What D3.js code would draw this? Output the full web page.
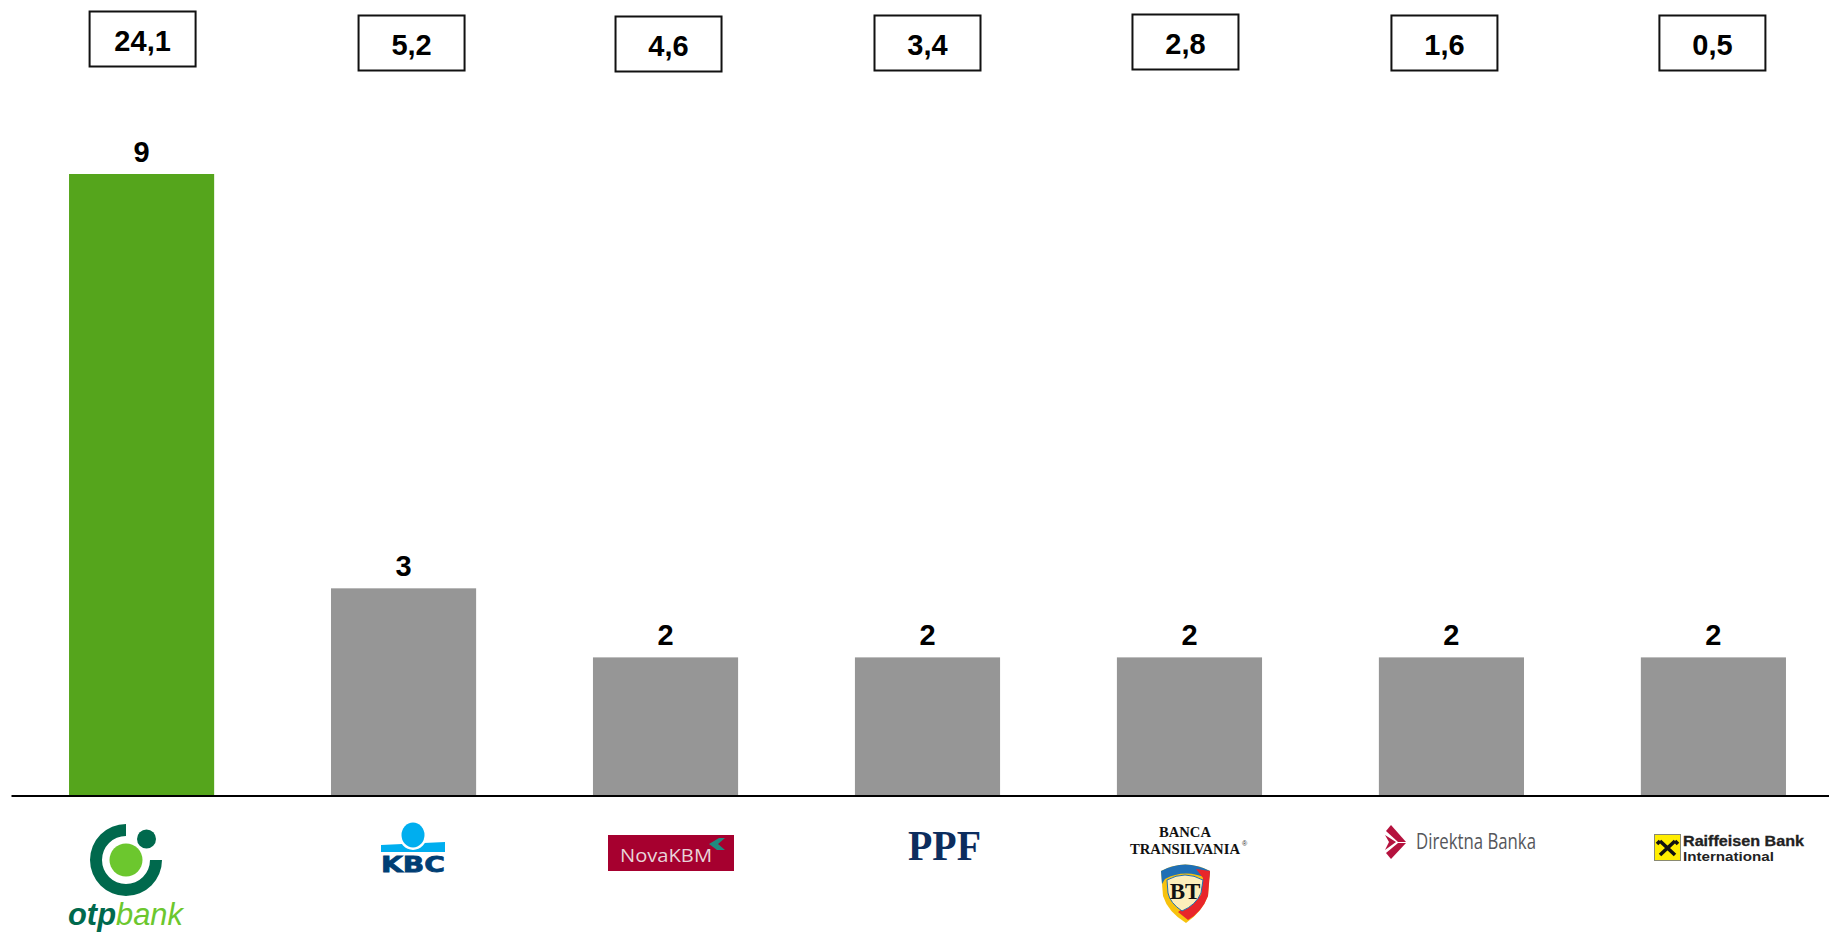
<!DOCTYPE html>
<html>
<head>
<meta charset="utf-8">
<script src="https://cdn.jsdelivr.net/npm/d3@7"></script>
<style>
  html, body { margin: 0; padding: 0; background: #fff; overflow: hidden; }
  svg { font-family: "Liberation Sans", Arial, sans-serif; }
</style>
</head>
<body>
<div id="chart"></div>
<script>
const banks = ["OTP", "KBC", "NovaKBM", "PPF", "Banca Transilvania", "Direktna Banka", "Raiffeisen"];
const barValues = [9, 3, 2, 2, 2, 2, 2];
const boxLabels = ["24,1", "5,2", "4,6", "3,4", "2,8", "1,6", "0,5"];
const highlightBank = "OTP";

// hand placed boxes above the bars, offsets from the bar centre
const boxNudgeX = [1, 8, 3, 0, -4, -7, -1];
const boxTop = [11, 15, 16, 15, 14, 15, 15];

const width = 1829, height = 933;
const baseline = 795.5;

const svg = d3.select("#chart").append("svg")
  .attr("width", width)
  .attr("height", height)
  .style("display", "block");

const x = d3.scaleBand()
  .domain(banks)
  .range([11, 1844])
  .paddingInner(0.446)
  .paddingOuter(0.2215);

const y = d3.scaleLinear()
  .domain([0, 9])
  .range([baseline, 174]);

// Bars
svg.selectAll("rect.bar")
  .data(banks)
  .enter().append("rect")
  .attr("class", "bar")
  .attr("x", d => x(d))
  .attr("y", (d, i) => y(barValues[i]))
  .attr("width", x.bandwidth())
  .attr("height", (d, i) => baseline - y(barValues[i]))
  .attr("fill", d => d === highlightBank ? "#55a51c" : "#969696");

svg.selectAll("text.barLabel")
  .data(banks)
  .enter().append("text")
  .attr("class", "barLabel")
  .attr("x", d => x(d) + x.bandwidth() / 2)
  .attr("y", (d, i) => y(barValues[i]) - 12)
  .attr("text-anchor", "middle")
  .attr("font-size", 29)
  .attr("font-weight", "bold")
  .text((d, i) => barValues[i]);

// Axis line
const axis = d3.axisBottom(x).tickSize(0).tickFormat("");
const axisG = svg.append("g")
  .attr("transform", `translate(0,${baseline})`)
  .call(axis);
axisG.select(".domain").attr("stroke", "#000").attr("stroke-width", 2);

// Boxes on top
const boxW = 106, boxH = 55;
const boxes = svg.selectAll("g.box")
  .data(banks)
  .enter().append("g")
  .attr("class", "box")
  .attr("transform", (d, i) => `translate(${x(d) + x.bandwidth() / 2 + boxNudgeX[i]},${boxTop[i] + 0.5})`);

boxes.append("rect")
  .attr("x", -boxW / 2)
  .attr("width", boxW)
  .attr("height", boxH)
  .attr("fill", "#fff")
  .attr("stroke", "#111")
  .attr("stroke-width", 2);

boxes.append("text")
  .attr("y", 39)
  .attr("text-anchor", "middle")
  .attr("font-size", 29)
  .attr("font-weight", "bold")
  .text((d, i) => boxLabels[i]);

// Logos, drawn by hand under the axis
const logos = svg.append("g").attr("class", "logos");

function drawOtp(g) {
  const ring = d3.arc().innerRadius(24).outerRadius(36)
    .startAngle(Math.PI / 2).endAngle(2 * Math.PI);
  g.append("path").attr("d", ring()).attr("transform", "translate(126,860)").attr("fill", "#00694d");
  g.append("circle").attr("cx", 126).attr("cy", 860).attr("r", 16.5).attr("fill", "#6cc72e");
  g.append("circle").attr("cx", 146.5).attr("cy", 839).attr("r", 9.5).attr("fill", "#00694d");
  const t = g.append("text").attr("x", 68).attr("y", 925)
    .attr("font-size", 31).attr("font-style", "italic")
    .attr("textLength", 115).attr("lengthAdjust", "spacingAndGlyphs");
  t.append("tspan").attr("font-weight", "bold").attr("fill", "#00694d").text("otp");
  t.append("tspan").attr("fill", "#6cc72e").text("bank");
}

function drawKbc(g) {
  g.append("path").attr("d", "M381,845 L445,842 L445,852 L381,852 Z").attr("fill", "#00aeef");
  g.append("ellipse").attr("cx", 413).attr("cy", 835).attr("rx", 14).attr("ry", 15).attr("fill", "#fff");
  g.append("ellipse").attr("cx", 413).attr("cy", 835).attr("rx", 11.5).attr("ry", 12.5).attr("fill", "#00aeef");
  g.append("text").attr("x", 381).attr("y", 872)
    .attr("font-size", 22).attr("font-weight", "bold")
    .attr("font-family", "DejaVu Sans")
    .attr("textLength", 64).attr("lengthAdjust", "spacingAndGlyphs")
    .attr("stroke", "#003e74").attr("stroke-width", 0.8)
    .attr("fill", "#003e74").text("KBC");
}

function drawNova(g) {
  g.append("rect").attr("x", 608).attr("y", 835).attr("width", 126).attr("height", 36).attr("fill", "#a6002f");
  g.append("text").attr("x", 620).attr("y", 862)
    .attr("font-size", 18).attr("font-family", "Open Sans")
    .attr("textLength", 92).attr("lengthAdjust", "spacingAndGlyphs")
    .attr("fill", "#e8d3d9").text("NovaKBM");
  g.append("path").attr("d", "M719,838 L725,838 L718,844 L725,850 L717,850 L709,844 Z").attr("fill", "#1f8a80");
}

function drawPpf(g) {
  g.append("text").attr("x", 908).attr("y", 860)
    .attr("font-size", 42).attr("font-weight", "bold")
    .attr("font-family", "Liberation Serif")
    .attr("textLength", 73).attr("lengthAdjust", "spacingAndGlyphs")
    .attr("fill", "#0c2d5e").text("PPF");
}

function drawBt(g) {
  const serif = t => t.attr("font-size", 15).attr("font-weight", "bold")
    .attr("font-family", "Liberation Serif").attr("fill", "#111")
    .attr("lengthAdjust", "spacingAndGlyphs");
  g.append("text").attr("x", 1159).attr("y", 836.5)
    .attr("textLength", 52).call(serif).text("BANCA");
  g.append("text").attr("x", 1130).attr("y", 853.5)
    .attr("textLength", 110).call(serif).text("TRANSILVANIA");
  g.append("text").attr("x", 1242).attr("y", 846)
    .attr("font-size", 7).attr("fill", "#333").text("®");
  // shield
  g.append("path").attr("d", "M1161,871 Q1185,858 1210,871 L1208,896 Q1202,912 1186,923 Q1168,912 1163,896 Z").attr("fill", "#f7c20e");
  g.append("path").attr("d", "M1161,871 Q1185,858 1210,871 L1209,879 Q1185,868 1165,879 L1162,884 Z").attr("fill", "#1f6fb5");
  g.append("path").attr("d", "M1196,869 L1210,871 L1208,896 Q1202,912 1188,920 L1178,912 L1201,895 L1203,878 Z").attr("fill", "#e8262a");
  g.append("path").attr("d", "M1167,880 Q1185,870 1203,880 L1201,893 Q1196,905 1182,911 Q1170,903 1168,893 Z")
    .attr("fill", "#fdeebb").attr("stroke", "#1f6fb5").attr("stroke-width", 1);
  g.append("text").attr("x", 1185).attr("y", 899).attr("text-anchor", "middle")
    .attr("font-size", 23).attr("font-weight", "bold")
    .attr("font-family", "Liberation Serif").attr("fill", "#111").text("BT");
}

function drawDirektna(g) {
  g.append("path").attr("d", "M1391,825 L1406,842 L1398,842 L1386,831 Z").attr("fill", "#b5123e");
  g.append("path").attr("d", "M1385,835 L1396,842 L1385,850 L1389,842 Z").attr("fill", "#b5123e");
  g.append("path").attr("d", "M1398,843 L1406,843 L1391,859 L1386,853 Z").attr("fill", "#b5123e");
  g.append("text").attr("x", 1416).attr("y", 849)
    .attr("font-size", 21).attr("font-family", "Open Sans")
    .attr("textLength", 120).attr("lengthAdjust", "spacingAndGlyphs")
    .attr("fill", "#55565b").text("Direktna Banka");
}

function drawRaiffeisen(g) {
  g.append("rect").attr("x", 1654.5).attr("y", 834.5).attr("width", 26).attr("height", 26)
    .attr("fill", "#ffed00").attr("stroke", "#8a8a70").attr("stroke-width", 1);
  g.append("path").attr("d", "M1660,855 L1675,841 M1675,855 L1660,841 M1657,844 L1660,841 M1678,844 L1675,841")
    .attr("fill", "none").attr("stroke", "#111").attr("stroke-width", 3.6);
  g.append("text").attr("x", 1683).attr("y", 846)
    .attr("font-size", 14).attr("font-weight", "bold").attr("fill", "#222")
    .attr("stroke", "#222").attr("stroke-width", 0.3)
    .attr("textLength", 121).attr("lengthAdjust", "spacingAndGlyphs").text("Raiffeisen Bank");
  g.append("text").attr("x", 1683).attr("y", 861)
    .attr("font-size", 13).attr("font-weight", "bold").attr("fill", "#222")
    .attr("textLength", 91).attr("lengthAdjust", "spacingAndGlyphs").text("International");
}

[drawOtp, drawKbc, drawNova, drawPpf, drawBt, drawDirektna, drawRaiffeisen]
  .forEach(fn => fn(logos.append("g")));
</script>
</body>
</html>
